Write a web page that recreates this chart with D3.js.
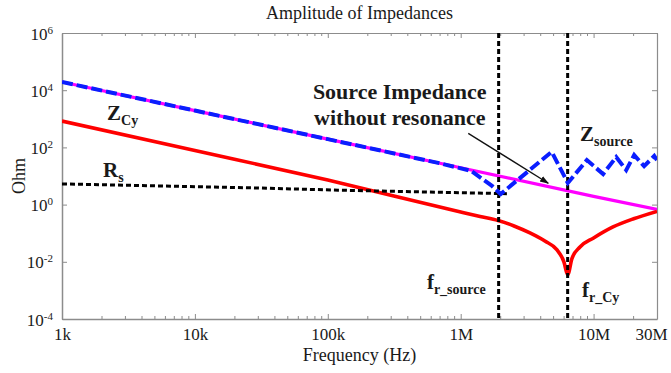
<!DOCTYPE html>
<html>
<head>
<meta charset="utf-8">
<script src="https://cdn.jsdelivr.net/npm/d3@7"></script>
<style>
  body { margin: 0; background: #fff; }
  text { font-family: "Liberation Serif", "Times New Roman", serif; fill: #1a1a1a; }
</style>
</head>
<body>
<svg id="chart" width="671" height="373"></svg>
<script>
// axis ticks
const freqTicks = [1e3, 1e4, 1e5, 1e6, 1e7, 3e7];
const freqTickLabels = ['1k', '10k', '100k', '1M', '10M', '30M'];
const ohmTicks = [1e-4, 1e-2, 1e0, 1e2, 1e4, 1e6];
const ohmExponents = ['-4', '-2', '0', '2', '4', '6'];

// Z_Cy without resonance (magenta)
const capFreq = [1e3, 1e4, 1e5, 1e6, 1e7, 3e7];
const capOhm  = [19400, 1940, 194, 19.4, 1.94, 0.68];

// Z_source (blue dashed)
const sourceFreq = [1e3, 1e4, 1e5, 7e5, 1.2e6, 1.72e6, 2.0e6, 4.84e6, 6.4e6,
                    8.9e6, 1.18e7, 1.48e7, 1.76e7, 2.02e7, 2.4e7, 2.86e7, 3.0e7];
const sourceOhm  = [19400, 1940, 194, 27.8, 15, 4.5, 2.35, 70, 5.7,
                    36, 11.7, 46, 16, 54, 22, 50, 36];

// Z_Cy with resonance (red)
const resFreq = [1e3, 1e4, 1e5, 1e6, 1.4e6, 1.91e6, 2.52e6, 3.32e6, 4.3e6, 5.31e6, 5.98e6,
                 6.38e6, 6.87e6, 7.9e6, 1e7, 1.4e7, 2e7, 3e7];
const resOhm  = [830, 78, 7.2, 0.55, 0.384, 0.278, 0.179, 0.102, 0.053, 0.026, 0.010,
                 0.0035, 0.013, 0.033, 0.068, 0.165, 0.32, 0.58];

// R_s (black dashed)
const rsFreq = [1e3, 3e4, 1.2e5, 2.3e6];
const rsOhm  = [5.3, 3.8, 3.2, 2.4];

// resonance markers
const resonanceFreq = [1.93e6, 6.38e6];

const margin = { top: 33, right: 14, bottom: 54, left: 62 };
const svg = d3.select('#chart');
const width = 671 - margin.left - margin.right;
const height = 373 - margin.top - margin.bottom;

const x = d3.scaleLog().domain([1e3, 3e7]).range([0, width]);
const y = d3.scaleLog().domain([1e-4, 1e6]).range([height, 0]);

const g = svg.append('g').attr('transform', `translate(${margin.left},${margin.top})`);

svg.append('defs').append('clipPath').attr('id', 'plot-clip')
  .append('rect').attr('width', width).attr('height', height);

svg.select('defs').append('marker')
  .attr('id', 'arrow')
  .attr('viewBox', '0 0 10 10')
  .attr('refX', 9).attr('refY', 5)
  .attr('markerWidth', 7).attr('markerHeight', 7)
  .attr('orient', 'auto')
  .append('path').attr('d', 'M0,1.5 L10,5 L0,8.5 Z').style('fill', '#111');

// minor x ticks (2..9 per decade)
const minorX = [];
for (let d = 1e3; d < 3e7; d *= 10) {
  for (let k = 2; k <= 9; k++) if (d * k < 3e7) minorX.push(d * k);
}

const axisColor = '#8c8c8c';

// bottom axis
const xAxis = g.append('g').attr('transform', `translate(0,${height})`)
  .call(d3.axisBottom(x).tickValues(freqTicks)
    .tickFormat((d, i) => freqTickLabels[i])
    .tickSizeInner(-5).tickSizeOuter(0).tickPadding(9));
xAxis.select('.domain').style('stroke', axisColor).style('stroke-width', 1.5);
xAxis.selectAll('.tick line').style('stroke', axisColor);
xAxis.selectAll('text').style('font-size', '17px').style('fill', '#1a1a1a');
xAxis.selectAll('.tick').filter(d => d === 3e7).select('text').attr('dx', -6);

// top axis
const xTop = g.append('g')
  .call(d3.axisTop(x).tickValues(freqTicks).tickFormat('')
    .tickSizeInner(-5).tickSizeOuter(0));
xTop.select('.domain').style('stroke', axisColor).style('stroke-width', 1.2);
xTop.selectAll('.tick line').style('stroke', axisColor);

// minor ticks bottom & top
g.append('g').selectAll('line.minor-b').data(minorX).join('line')
  .attr('x1', d => x(d)).attr('x2', d => x(d))
  .attr('y1', height).attr('y2', height - 3)
  .style('stroke', axisColor);
g.append('g').selectAll('line.minor-t').data(minorX).join('line')
  .attr('x1', d => x(d)).attr('x2', d => x(d))
  .attr('y1', 0).attr('y2', 3)
  .style('stroke', axisColor);

// left axis
const yAxis = g.append('g')
  .call(d3.axisLeft(y).tickValues(ohmTicks).tickFormat('')
    .tickSizeInner(-5).tickSizeOuter(0).tickPadding(9));
yAxis.select('.domain').style('stroke', axisColor).style('stroke-width', 1.5);
yAxis.selectAll('.tick line').style('stroke', axisColor);
yAxis.selectAll('.tick').each(function(d, i) {
  const t = d3.select(this).select('text')
    .attr('x', -9).attr('dy', '0.36em')
    .style('font-size', '17px').style('fill', '#1a1a1a');
  t.text(null);
  t.append('tspan').text('10');
  t.append('tspan').text(ohmExponents[i])
    .attr('dy', '-0.55em').style('font-size', '11px');
});

// right axis
const yRight = g.append('g').attr('transform', `translate(${width},0)`)
  .call(d3.axisRight(y).tickValues(ohmTicks).tickFormat('')
    .tickSizeInner(-5).tickSizeOuter(0));
yRight.select('.domain').style('stroke', axisColor).style('stroke-width', 1.2);
yRight.selectAll('.tick line').style('stroke', axisColor);

// series
const plot = g.append('g').attr('clip-path', 'url(#plot-clip)');
const line = d3.line().x(d => x(d[0])).y(d => y(d[1]));
const smooth = d3.line().x(d => x(d[0])).y(d => y(d[1])).curve(d3.curveMonotoneX);

const zip = (a, b) => a.map((v, i) => [v, b[i]]);

plot.append('path').datum(zip(capFreq, capOhm))
  .attr('d', line)
  .style('fill', 'none').style('stroke', '#ff00ff').style('stroke-width', 3.2);

plot.append('path').datum(zip(resFreq, resOhm))
  .attr('d', smooth)
  .style('fill', 'none').style('stroke', '#ff0000').style('stroke-width', 3.6)
  .style('stroke-linejoin', 'round');

plot.append('path').datum(zip(rsFreq, rsOhm))
  .attr('d', line)
  .style('fill', 'none').style('stroke', '#000').style('stroke-width', 3)
  .style('stroke-dasharray', '5,3');

plot.selectAll('line.resonance').data(resonanceFreq).join('line')
  .attr('class', 'resonance')
  .attr('x1', d => x(d)).attr('x2', d => x(d))
  .attr('y1', 0).attr('y2', height)
  .style('stroke', '#000').style('stroke-width', 3)
  .style('stroke-dasharray', '5,3');

plot.append('path').datum(zip(sourceFreq, sourceOhm))
  .attr('d', line)
  .style('fill', 'none').style('stroke', '#0a1eff').style('stroke-width', 4)
  .style('stroke-dasharray', '11,4');

// arrow
const arrowFrom = [1.14e6, 309];
const arrowTo = [4.56e6, 5.6];
g.append('line')
  .attr('x1', x(arrowFrom[0])).attr('y1', y(arrowFrom[1]))
  .attr('x2', x(arrowTo[0])).attr('y2', y(arrowTo[1]))
  .style('stroke', '#111').style('stroke-width', 1.3)
  .attr('marker-end', 'url(#arrow)');

// annotations: [freq, ohm, main, subscript]
const notes = [
  [2182, 908, 'Z', 'Cy'],
  [2034, 9.2, 'R', 's'],
  [7.9e6, 167, 'Z', 'source'],
  [5.57e5, 1.12e-3, 'f', 'r_source'],
  [8.18e6, 5.9e-4, 'f', 'r_Cy']
];
notes.forEach(n => {
  const t = g.append('text')
    .attr('x', x(n[0])).attr('y', y(n[1]))
    .style('font-weight', 'bold').style('font-size', '21px');
  t.append('tspan').text(n[2]);
  t.append('tspan').text(n[3]).attr('dy', 5).style('font-size', '14px');
});

const srcNote = g.append('text')
  .attr('x', x(3.48e5)).attr('y', y(4920))
  .attr('text-anchor', 'middle')
  .style('font-weight', 'bold').style('font-size', '22px');
srcNote.append('tspan').text('Source Impedance');
srcNote.append('tspan').text('without resonance')
  .attr('x', x(3.48e5)).attr('dy', 26);

// titles
svg.append('text')
  .attr('x', margin.left + width / 2).attr('y', 19)
  .attr('text-anchor', 'middle')
  .style('font-size', '18px')
  .text('Amplitude of Impedances');

svg.append('text')
  .attr('x', margin.left + width / 2).attr('y', 361)
  .attr('text-anchor', 'middle')
  .style('font-size', '18px')
  .text('Frequency (Hz)');

svg.append('text')
  .attr('transform', `translate(25,${margin.top + height / 2}) rotate(-90)`)
  .attr('text-anchor', 'middle')
  .style('font-size', '18px')
  .text('Ohm');
</script>
</body>
</html>
